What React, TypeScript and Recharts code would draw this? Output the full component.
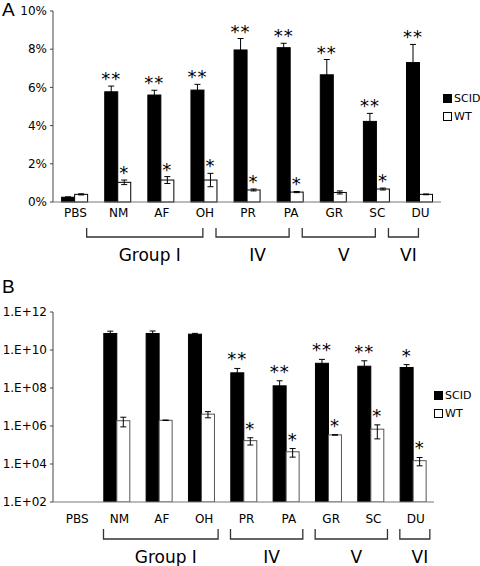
import React from 'react';
import { BarChart, Bar, XAxis, YAxis, ErrorBar } from 'recharts';

const categories = ['PBS', 'NM', 'AF', 'OH', 'PR', 'PA', 'GR', 'SC', 'DU'];

// Panel A: percentage values
const scidPct = [0.25, 5.77, 5.6, 5.86, 7.96, 8.08, 6.66, 4.22, 7.3];
const scidPctErr = [0.02, 0.3, 0.25, 0.3, 0.6, 0.23, 0.8, 0.42, 0.95];
const wtPct = [0.4, 1.03, 1.15, 1.15, 0.63, 0.52, 0.5, 0.68, 0.4];
const wtPctErr = [0.03, 0.12, 0.18, 0.35, 0.05, 0.03, 0.08, 0.05, 0.02];
const scidStarsA = ['', '**', '**', '**', '**', '**', '**', '**', '**'];
const wtStarsA = ['', '*', '*', '*', '*', '*', '', '*', ''];

// Panel B: counts (log scale)
const scidCount = [null, 7.4e10, 7.4e10, 6.8e10, 6.3e8, 1.3e8, 2.0e9, 1.4e9, 1.2e9];
const scidCountErr = [0, 2.4e10, 2.6e10, 0.7e10, 4.4e8, 1.1e8, 1.2e9, 1.3e9, 0.5e9];
const wtCount = [null, 1.9e6, 2.0e6, 4.2e6, 1.7e5, 4.4e4, 3.4e5, 6.8e5, 1.5e4];
const wtCountErr = [0, 1.0e6, 0.05e6, 1.5e6, 0.7e5, 2.1e4, 0.1e5, 4.7e5, 0.7e4];
const scidStarsB = ['', '', '', '', '**', '**', '**', '**', '*'];
const wtStarsB = ['', '', '', '', '*', '*', '*', '*', '*'];

const pctTicks = [0, 2, 4, 6, 8, 10];
const logTicks = [1e2, 1e4, 1e6, 1e8, 1e10, 1e12];

const groups = [
  { label: 'Group I', start: 1, end: 3 },
  { label: 'IV', start: 4, end: 5 },
  { label: 'V', start: 6, end: 7 },
  { label: 'VI', start: 8, end: 8 },
];

const series = [
  { name: 'SCID', fill: '#000' },
  { name: 'WT', fill: '#fff' },
];

const dataA = categories.map((c, i) => ({
  name: c,
  scid: scidPct[i],
  scidErr: scidPctErr[i],
  wt: wtPct[i],
  wtErr: wtPctErr[i],
}));

const dataB = categories.map((c, i) => ({
  name: c,
  scid: scidCount[i],
  scidErr: scidCountErr[i],
  wt: wtCount[i],
  wtErr: wtCountErr[i],
}));

const FONT = '"DejaVu Sans", Verdana, sans-serif';

// bar with asterisks placed above its error bar
const makeShape = (
  values: (number | null)[],
  errs: number[],
  stars: string[],
  log: boolean,
  fill: string,
  stroke: string,
  starGap: number
) => (props: any) => {
  const { x, y, width, height, payload } = props;
  const index = categories.indexOf(payload?.name);
  const v = values[index];
  if (v == null || index < 0) return null;
  const e = errs[index];
  let errPx = 0;
  if (log) {
    const perDecade = height / (Math.log10(v) - 2);
    errPx = perDecade * Math.log10((v + e) / v);
  } else {
    errPx = (e * height) / v;
  }
  return (
    <g>
      <rect x={x} y={y} width={width} height={height} fill={fill} stroke={stroke} strokeWidth={1} />
      {stars[index] ? (
        <text
          x={x + width / 2}
          y={y - errPx - starGap}
          textAnchor="middle"
          fontSize={18}
          letterSpacing={1}
          fontFamily={FONT}
          fill="#000"
        >
          {stars[index]}
        </text>
      ) : null}
    </g>
  );
};

const makeTick = (cfg: {
  axisY: number;
  band: number;
  dx: number;
  labelDy: number;
  brTop: number;
  brBot: number;
  brStart: number;
  brEnd: number;
  groupDy: number;
}) => (props: any) => {
  const { x, payload } = props;
  const i = categories.indexOf(payload.value);
  const g = groups.find((gr) => gr.start === i);
  let bracket = null;
  if (g) {
    const x1 = x + cfg.brStart;
    const x2 = x + (g.end - g.start) * cfg.band + cfg.brEnd;
    const top = cfg.axisY + cfg.brTop;
    const bot = cfg.axisY + cfg.brBot;
    bracket = (
      <g>
        <path d={`M${x1},${top} V${bot} H${x2} V${top}`} fill="none" stroke="#333" strokeWidth={1.3} />
        <text
          x={(x1 + x2) / 2 + 5}
          y={cfg.axisY + cfg.groupDy}
          textAnchor="middle"
          fontSize={17}
          fontFamily={FONT}
          fill="#000"
        >
          {g.label}
        </text>
      </g>
    );
  }
  return (
    <g>
      <text
        x={x + cfg.dx}
        y={cfg.axisY + cfg.labelDy}
        textAnchor="middle"
        fontSize={12}
        fontFamily={FONT}
        fill="#000"
      >
        {payload.value}
      </text>
      {bracket}
    </g>
  );
};

const LegendBox = ({ left, top }: { left: number; top: number }) => (
  <div style={{ position: 'absolute', left, top, fontFamily: FONT, fontSize: 11, color: '#000' }}>
    {series.map((s, i) => (
      <div key={s.name} style={{ display: 'flex', alignItems: 'center', height: 16, marginTop: i ? 2 : 0 }}>
        <div
          style={{
            width: 7,
            height: 7,
            background: s.fill,
            border: '1px solid #000',
            marginRight: 2,
          }}
        />
        <span>{s.name}</span>
      </div>
    ))}
  </div>
);

const expLabel = (v: number) => {
  const p = Math.round(Math.log10(v));
  return `1.E+${String(p).padStart(2, '0')}`;
};

const App: React.FC = () => {
  return (
    <div style={{ position: 'absolute', left: 0, top: 0, width: 480, height: 566, background: '#fff' }}>
      <div style={{ position: 'absolute', left: 2, top: 0, lineHeight: '20px', fontFamily: '"Liberation Sans", Arial, sans-serif', fontSize: 19 }}>
        A
      </div>
      <div style={{ position: 'absolute', left: 2, top: 277, lineHeight: '20px', fontFamily: '"Liberation Sans", Arial, sans-serif', fontSize: 19 }}>
        B
      </div>

      <div style={{ position: 'absolute', left: 0, top: 0 }}>
        <BarChart width={480} height={270} data={dataA} margin={{ top: 11, right: 39, left: 0, bottom: 0 }} barCategoryGap="20%" barGap={0}>
          <YAxis
            domain={[0, 10]}
            ticks={pctTicks}
            tickFormatter={(v: number) => `${v}%`}
            width={53}
            tickSize={3}
            tickMargin={3}
            axisLine={{ stroke: '#444' }}
            tickLine={{ stroke: '#444' }}
            tick={{ fontSize: 12, fill: '#000', fontFamily: FONT }}
          />
          <XAxis
            dataKey="name"
            height={68}
            interval={0}
            tickLine={false}
            axisLine={{ stroke: '#777' }}
            tick={makeTick({ axisY: 202, band: 43.1, dx: 1, labelDy: 15, brTop: 26, brBot: 35, brStart: -31, brEnd: -1, groupDy: 59 })}
          />
          <Bar
            dataKey="scid"
            isAnimationActive={false}
            shape={makeShape(scidPct, scidPctErr, scidStarsA, false, '#000', '#000', 1)}
          >
            <ErrorBar dataKey="scidErr" width={3} stroke="#000" strokeWidth={1} />
          </Bar>
          <Bar
            dataKey="wt"
            isAnimationActive={false}
            shape={makeShape(wtPct, wtPctErr, wtStarsA, false, '#fff', '#000', 1)}
          >
            <ErrorBar dataKey="wtErr" width={3} stroke="#000" strokeWidth={1} />
          </Bar>
        </BarChart>
      </div>
      <LegendBox left={443} top={90} />

      <div style={{ position: 'absolute', left: 0, top: 290 }}>
        <BarChart width={480} height={276} data={dataB} margin={{ top: 22, right: 46, left: 0, bottom: 0 }} barCategoryGap="20%" barGap={0}>
          <YAxis
            scale="log"
            domain={[1e2, 1e12]}
            allowDataOverflow
            ticks={logTicks}
            tickFormatter={expLabel}
            width={53}
            tickSize={3}
            tickMargin={3}
            axisLine={{ stroke: '#444' }}
            tickLine={{ stroke: '#444' }}
            tick={{ fontSize: 12, fill: '#000', fontFamily: FONT }}
          />
          <XAxis
            dataKey="name"
            height={64}
            interval={0}
            tickLine={false}
            axisLine={{ stroke: '#777' }}
            tick={makeTick({ axisY: 212, band: 42.3, dx: 3, labelDy: 21, brTop: 27, brBot: 37, brStart: -13, brEnd: 17, groupDy: 61 })}
          />
          <Bar
            dataKey="scid"
            isAnimationActive={false}
            shape={makeShape(scidCount, scidCountErr, scidStarsB, true, '#000', '#000', 3)}
          >
            <ErrorBar dataKey="scidErr" width={3} stroke="#000" strokeWidth={1} />
          </Bar>
          <Bar
            dataKey="wt"
            isAnimationActive={false}
            shape={makeShape(wtCount, wtCountErr, wtStarsB, true, '#fff', '#555', 3)}
          >
            <ErrorBar dataKey="wtErr" width={3} stroke="#000" strokeWidth={1} />
          </Bar>
        </BarChart>
      </div>
      <LegendBox left={434} top={387} />
    </div>
  );
};

export default App;
